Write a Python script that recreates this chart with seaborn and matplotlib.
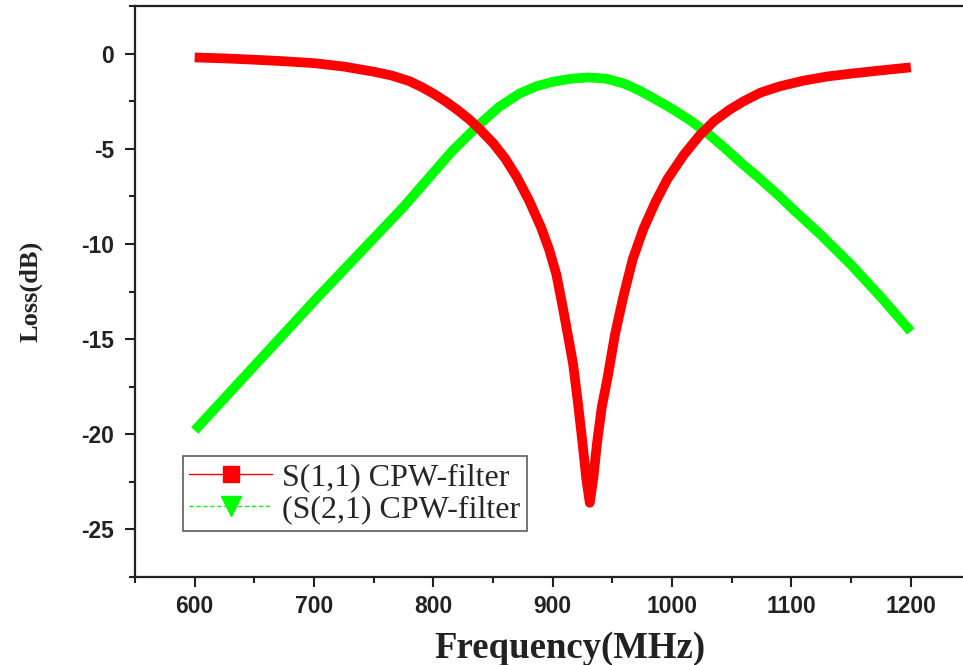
import matplotlib
matplotlib.use("Agg")
import matplotlib.pyplot as plt
from matplotlib.lines import Line2D
from matplotlib.ticker import MultipleLocator
import seaborn as sns
import pandas as pd

# ---- data ----
s11_freq = [600, 625, 650, 675, 700, 725, 750, 765, 780, 790, 800, 810, 820, 830,
            840, 850, 860, 870, 880, 890, 897, 903, 908, 913, 917, 921, 925, 928,
            931, 934, 937, 941, 946, 952, 959, 967, 976, 986, 996, 1010, 1023,
            1035, 1048, 1060, 1074, 1090, 1110, 1130, 1150, 1175, 1200]
s11_loss = [-0.20, -0.25, -0.32, -0.40, -0.50, -0.68, -0.95, -1.15, -1.45, -1.75,
            -2.1, -2.5, -2.95, -3.45, -4.05, -4.7, -5.5, -6.5, -7.7, -9.1, -10.3,
            -11.6, -13.2, -14.9, -16.3, -18.3, -20.5, -22.3, -23.6, -22.3, -20.5,
            -18.6, -17.0, -14.8, -12.8, -10.8, -9.2, -7.8, -6.6, -5.3, -4.3, -3.55,
            -2.95, -2.5, -2.05, -1.72, -1.42, -1.2, -1.05, -0.88, -0.72]

s21_freq = [600, 650, 700, 750, 775, 800, 816, 837, 855, 872, 886, 900, 915, 930,
            945, 960, 973, 986, 1000, 1015, 1030, 1043, 1058, 1074, 1090, 1100,
            1125, 1150, 1175, 1200]
s21_loss = [-19.8, -16.4, -13.0, -9.7, -8.05, -6.25, -5.1, -3.8, -2.8, -2.1, -1.72,
            -1.48, -1.32, -1.25, -1.32, -1.58, -1.95, -2.4, -2.9, -3.5, -4.2, -4.9,
            -5.75, -6.6, -7.5, -8.1, -9.55, -11.1, -12.8, -14.6]

series_labels = ["S(1,1) CPW-filter", "(S(2,1) CPW-filter"]
x_ticks = [600, 700, 800, 900, 1000, 1100, 1200]
y_ticks = [0, -5, -10, -15, -20, -25]

df11 = pd.DataFrame({"f": s11_freq, "loss": s11_loss})
df21 = pd.DataFrame({"f": s21_freq, "loss": s21_loss})

sns.set_theme(style="ticks")
plt.rcParams["font.family"] = ["Liberation Sans", "DejaVu Sans"]
plt.rcParams["axes.unicode_minus"] = False

fig = plt.figure(figsize=(9.63, 6.65), dpi=100)
ax = fig.add_axes([0.1402, 0.1323, 0.8676, 0.8586])

sns.lineplot(data=df21, x="f", y="loss", ax=ax, color="#00ff00", linewidth=7,
             sort=False, estimator=None)
sns.lineplot(data=df11, x="f", y="loss", ax=ax, color="#ff0000", linewidth=7,
             sort=False, estimator=None)
for ln in ax.lines:
    ln.set_solid_capstyle("butt")
    ln.set_solid_joinstyle("round")

ax.set_xlim(550, 1250)
ax.set_ylim(-27.5, 2.5)
ax.set_xticks(x_ticks)
ax.set_yticks(y_ticks)
ax.xaxis.set_minor_locator(MultipleLocator(50))
ax.yaxis.set_minor_locator(MultipleLocator(2.5))

for s in ["left", "bottom", "top"]:
    ax.spines[s].set_linewidth(1.6)
    ax.spines[s].set_color("#222222")
ax.spines["right"].set_visible(False)

ax.tick_params(axis="both", which="major", direction="out", length=7, width=1.5,
               color="#222222", labelsize=16.5, pad=6)
ax.tick_params(axis="y", which="major", pad=8)
ax.tick_params(axis="both", which="minor", direction="out", length=4, width=1.5,
               color="#222222")
ax.tick_params(axis="x", which="both", top=False)
for lab in ax.get_xticklabels() + ax.get_yticklabels():
    lab.set_fontweight("bold")
    lab.set_color("#222222")

ax.set_xlabel("Frequency(MHz)", family=["Liberation Serif", "DejaVu Serif"],
              fontweight="bold", fontsize=26.5, labelpad=9, color="#222222")
ax.xaxis.label.set_x(0.52)
ax.set_ylabel("Loss(dB)", family=["Liberation Serif", "DejaVu Serif"],
              fontweight="bold", fontsize=19, labelpad=28, color="#222222")

handles = [
    Line2D([], [], color="#ff0000", lw=1, marker="s", markersize=12,
           markerfacecolor="#ff0000", markeredgecolor="#ff0000"),
    Line2D([], [], color="#00ff00", lw=1, ls=(0, (3, 2)), marker="v", markersize=14,
           markerfacecolor="#00ff00", markeredgecolor="#00ff00"),
]
leg = ax.legend(handles, series_labels, loc="upper left",
                bbox_to_anchor=(0.0575, 0.212), borderaxespad=0,
                prop={"family": ["Liberation Serif", "DejaVu Serif"], "size": 23},
                frameon=True, fancybox=False, edgecolor="#333333",
                handlelength=2.6, handletextpad=0.3, borderpad=0.2,
                labelspacing=0.1)
leg.get_frame().set_linewidth(1.2)

fig.savefig("out.png", dpi=100)
